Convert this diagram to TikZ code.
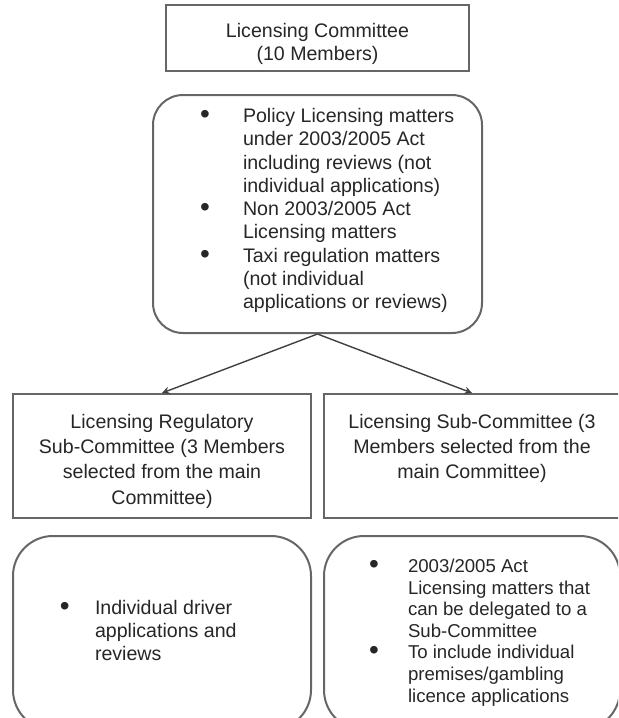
\documentclass[tikz,border=0pt]{standalone}
\usepackage{fontspec}
\setmainfont{Liberation Sans}
\usepackage{tikz}
\usetikzlibrary{arrows}
\tikzstyle{arrow} = [line width=0.7pt,->,>=stealth,draw=black!75]
\tikzstyle{box} = [rectangle, draw=black!60, line width=1pt, text=black!85, align=center, font=\fontsize{9.8}{11.65}\selectfont]
\tikzstyle{rbox} = [box, rounded corners=15pt]
\tikzstyle{subbox} = [box, minimum width=149pt, text height=12.25pt, text depth=39.75pt, inner ysep=5pt, font=\fontsize{9.8}{12.6}\selectfont]
\newcommand{\bigdot}{\raisebox{-0.1ex}{\fontsize{14}{14}\selectfont\textbullet}}

\begin{document}
\begin{tikzpicture}[x=0.5pt,y=-0.5pt]
\useasboundingbox (0,0) rectangle (618,718);
\clip (0,0) rectangle (618,718);

\node [box, minimum width=151.5pt, text height=12pt, text depth=13pt, inner ysep=4pt] (comm) at (317.5,38) {\begin{tabular}[t]{@{}c@{}}Licensing Committee\\(10 Members)\end{tabular}};

\node [rbox, minimum width=164.5pt, minimum height=119pt] (remit) at (317.5,214) {\hspace*{14pt}\begin{tabular}{@{}p{21.5pt}@{}p{110pt}@{}}
\bigdot & Policy Licensing matters\\
 & under 2003/2005 Act\\
 & including reviews (not\\
 & individual applications)\\
\bigdot & Non 2003/2005 Act\\
 & Licensing matters\\
\bigdot & Taxi regulation matters\\
 & (not individual\\
 & applications or reviews)
\end{tabular}\\[2pt]};

\node [subbox] (regsub) at (162,456) {\begin{tabular}[t]{@{}c@{}}Licensing Regulatory\\Sub-Committee (3 Members\\selected from the main\\Committee)\end{tabular}};
\node [subbox, minimum width=148pt] (licsub) at (472,456) {\begin{tabular}[t]{@{}c@{}}Licensing Sub-Committee (3\\Members selected from the\\main Committee)\end{tabular}};

\node [rbox, rounded corners=20pt, minimum width=149pt, minimum height=97pt] (regtask) at (162,633) {\begin{tabular}{@{}p{17.5pt}@{}p{72pt}@{}}
\bigdot & Individual driver\\
 & applications and\\
 & reviews
\end{tabular}\hspace*{12.5pt}};
\node [rbox, rounded corners=20pt, minimum width=148pt, minimum height=97pt, font=\fontsize{9.3}{10.8}\selectfont] (lictask) at (472,633) {\hspace*{11.5pt}\begin{tabular}{@{}p{19.5pt}@{}p{95pt}@{}}
\bigdot & 2003/2005 Act\\
 & Licensing matters that\\
 & can be delegated to a\\
 & Sub-Committee\\
\bigdot & To include individual\\
 & premises/gambling\\
 & licence applications
\end{tabular}};

\draw [arrow] (remit.south) to (regsub.north);
\draw [arrow] (remit.south) to (licsub.north);
\end{tikzpicture}
\end{document}
